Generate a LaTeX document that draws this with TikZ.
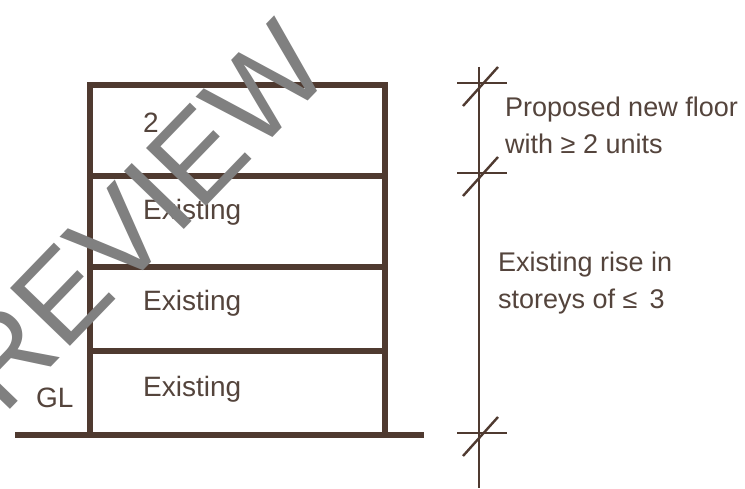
\documentclass[tikz,border=0pt]{standalone}
\usepackage{fontspec}
\setmainfont{Liberation Sans}
\usetikzlibrary{positioning,calc}
\definecolor{wallbrown}{HTML}{4F3A30}
\definecolor{textbrown}{HTML}{54443C}
\tikzset{
  wall/.style = {draw = wallbrown, line width = 6pt},
  dimline/.style = {draw = wallbrown, line width = 2.4pt},
  storey/.style = {text = textbrown, anchor = base west, inner sep = 0pt, font = \fontsize{28}{32}\selectfont},
  note/.style = {text = textbrown, anchor = west, inner sep = 0pt, align = left, font = \fontsize{27}{37}\selectfont}
}
\begin{document}
\begin{tikzpicture}[x = 1pt, y = -1pt]
\useasboundingbox[fill = white] (0, 0) rectangle (745, 489);
% building
\coordinate (topL) at (90, 85);
\coordinate (topR) at (385, 85);
\coordinate (gndL) at (90, 435);
\coordinate (gndR) at (385, 435);
\coordinate (glL) at (15, 435);
\coordinate (glR) at (424, 435);
\draw[wall, line cap = rect] (gndL) -- (topL) -- (topR) -- (gndR);
\draw[wall] (glL) -- (glR);
\foreach \lev/\y in {a/176, b/267, c/351} {
  \coordinate (\lev L) at (90, \y);
  \coordinate (\lev R) at (385, \y);
  \draw[wall] (\lev L) -- (\lev R);
}
\node[storey] (newfloor) at (143, 133) {2};
\node[storey] (exa) at (143, 220) {Existing};
\node[storey] (exb) at (143, 311) {Existing};
\node[storey] (exc) at (143, 396) {Existing};
\node[storey] (gl) at (36, 407) {GL};
% dimension line
\coordinate (dimT) at (479, 67);
\coordinate (dimB) at (479, 488);
\draw[dimline] (dimT) -- (dimB);
\foreach \tick/\y in {p/83, q/173, r/433} {
  \coordinate (\tick W) at (457, \y);
  \coordinate (\tick E) at (507, \y);
  \coordinate (\tick S) at (463, \y + 23);
  \coordinate (\tick N) at (498, \y - 16);
  \draw[dimline] (\tick W) -- (\tick E);
  \draw[dimline] (\tick S) -- (\tick N);
}
\node[note] (proposed) at (505, 125) {Proposed new floor\\with ≥ 2 units};
\node[note] (rise) at (498, 283) {Existing rise in\\storeys of ≤ \,3};
% watermark
\node[text = black!50, rotate = 46, anchor = base, inner sep = 0pt, font = \fontsize{121}{130}\selectfont] (stamp) at (141, 274) {PREVIEW};
\end{tikzpicture}
\end{document}
